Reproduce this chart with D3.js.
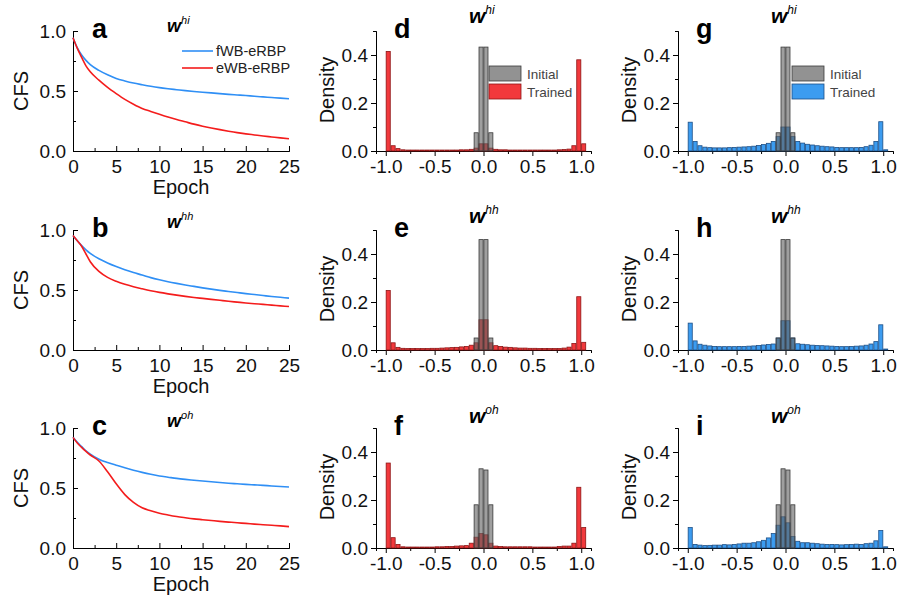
<!DOCTYPE html>
<html>
<head>
<meta charset="utf-8">
<script src="https://cdn.jsdelivr.net/npm/d3@7"></script>
<style>
  body { margin: 0; background: #fff; }
  svg { font-family: "Liberation Sans", Arial, sans-serif; }
</style>
</head>
<body>
<div id="chart"></div>
<script>
// ---- data ----
var epochs = [0, 0.5, 1, 1.5, 2, 3, 4, 5, 6, 7, 8, 9, 10, 11, 12, 13, 14, 15, 16, 17, 18, 19, 20, 21, 22, 23, 24, 25];

// CFS curves (fWB-eRBP = blue, eWB-eRBP = red)
var cfsHiF = [0.944, 0.86, 0.80, 0.755, 0.72, 0.672, 0.635, 0.605, 0.584, 0.566, 0.552, 0.539, 0.528, 0.519, 0.511, 0.503, 0.496, 0.490, 0.484, 0.478, 0.472, 0.467, 0.462, 0.456, 0.451, 0.446, 0.441, 0.435];
var cfsHiE = [0.944, 0.855, 0.78, 0.71, 0.66, 0.59, 0.53, 0.478, 0.43, 0.39, 0.355, 0.33, 0.306, 0.283, 0.262, 0.243, 0.224, 0.207, 0.192, 0.178, 0.165, 0.153, 0.143, 0.134, 0.125, 0.117, 0.109, 0.102];
var cfsHhF = [0.955, 0.91, 0.87, 0.835, 0.805, 0.76, 0.725, 0.695, 0.668, 0.645, 0.625, 0.603, 0.585, 0.569, 0.555, 0.542, 0.53, 0.518, 0.507, 0.497, 0.488, 0.479, 0.47, 0.462, 0.454, 0.446, 0.439, 0.432];
var cfsHhE = [0.955, 0.91, 0.865, 0.80, 0.735, 0.655, 0.605, 0.572, 0.547, 0.527, 0.51, 0.494, 0.48, 0.468, 0.457, 0.447, 0.438, 0.43, 0.422, 0.414, 0.406, 0.399, 0.392, 0.386, 0.38, 0.374, 0.368, 0.362];
var cfsOhF = [0.922, 0.88, 0.845, 0.81, 0.782, 0.74, 0.712, 0.69, 0.668, 0.648, 0.63, 0.614, 0.60, 0.59, 0.58, 0.572, 0.565, 0.558, 0.552, 0.546, 0.54, 0.535, 0.53, 0.526, 0.522, 0.517, 0.513, 0.508];
var cfsOhE = [0.922, 0.875, 0.838, 0.805, 0.775, 0.725, 0.635, 0.535, 0.445, 0.38, 0.335, 0.31, 0.29, 0.275, 0.262, 0.252, 0.243, 0.236, 0.229, 0.222, 0.216, 0.21, 0.205, 0.199, 0.194, 0.189, 0.184, 0.178];

// histogram bin centres (bin width 0.05)
var binCenters = [-0.975, -0.925, -0.875, -0.825, -0.775, -0.725, -0.675, -0.625, -0.575, -0.525,
  -0.475, -0.425, -0.375, -0.325, -0.275, -0.225, -0.175, -0.125, -0.075, -0.025,
  0.025, 0.075, 0.125, 0.175, 0.225, 0.275, 0.325, 0.375, 0.425, 0.475,
  0.525, 0.575, 0.625, 0.675, 0.725, 0.775, 0.825, 0.875, 0.925, 0.975, 1.025];
var initCenters = [-0.075, -0.025, 0.025, 0.075];

// initial weight densities
var initHi = [0.076, 0.433, 0.433, 0.076];
var initHh = [0.05, 0.46, 0.46, 0.05];
var initOh = [0.18, 0.33, 0.325, 0.18];

// trained densities, eWB-eRBP (red)
var trainHiE = [0.415, 0.022, 0.01, 0.005, 0.004, 0.004, 0.004, 0.004, 0.004, 0.004,
  0.004, 0.004, 0.004, 0.004, 0.004, 0.005, 0.005, 0.007, 0.012, 0.03,
  0.03, 0.012, 0.007, 0.005, 0.005, 0.004, 0.004, 0.004, 0.004, 0.004,
  0.004, 0.004, 0.004, 0.004, 0.004, 0.005, 0.006, 0.008, 0.022, 0.38, 0.03];
var trainHhE = [0.248, 0.03, 0.011, 0.007, 0.006, 0.006, 0.006, 0.006, 0.006, 0.007,
  0.007, 0.008, 0.009, 0.01, 0.011, 0.013, 0.015, 0.02, 0.03, 0.126,
  0.126, 0.03, 0.018, 0.015, 0.012, 0.011, 0.009, 0.008, 0.008, 0.007,
  0.007, 0.006, 0.006, 0.006, 0.006, 0.006, 0.008, 0.012, 0.027, 0.222, 0.032];
var trainOhE = [0.354, 0.043, 0.015, 0.005, 0.004, 0.004, 0.004, 0.004, 0.004, 0.004,
  0.005, 0.005, 0.006, 0.006, 0.008, 0.009, 0.01, 0.02, 0.045, 0.06,
  0.055, 0.02, 0.008, 0.006, 0.005, 0.005, 0.005, 0.005, 0.005, 0.005,
  0.004, 0.004, 0.004, 0.004, 0.004, 0.006, 0.008, 0.008, 0.02, 0.253, 0.085];

// trained densities, fWB-eRBP (blue)
var trainHiF = [0.12, 0.04, 0.022, 0.016, 0.014, 0.013, 0.013, 0.013, 0.014, 0.015,
  0.016, 0.017, 0.018, 0.02, 0.023, 0.027, 0.032, 0.04, 0.06, 0.10,
  0.10, 0.06, 0.04, 0.033, 0.028, 0.025, 0.022, 0.02, 0.018, 0.017,
  0.015, 0.014, 0.014, 0.014, 0.014, 0.015, 0.018, 0.024, 0.04, 0.122, 0.005];
var trainHhF = [0.112, 0.038, 0.024, 0.02, 0.017, 0.015, 0.014, 0.014, 0.014, 0.014,
  0.015, 0.015, 0.016, 0.017, 0.019, 0.021, 0.023, 0.025, 0.05, 0.122,
  0.122, 0.05, 0.026, 0.024, 0.022, 0.02, 0.019, 0.018, 0.017, 0.016,
  0.015, 0.014, 0.014, 0.015, 0.016, 0.017, 0.02, 0.025, 0.035, 0.105, 0.004];
var trainOhF = [0.085, 0.015, 0.012, 0.01, 0.011, 0.012, 0.012, 0.014, 0.013, 0.015,
  0.017, 0.02, 0.02, 0.022, 0.026, 0.032, 0.042, 0.06, 0.095, 0.13,
  0.105, 0.048, 0.028, 0.022, 0.022, 0.02, 0.018, 0.016, 0.015, 0.015,
  0.014, 0.013, 0.014, 0.015, 0.016, 0.015, 0.018, 0.02, 0.03, 0.073, 0.005];

var panelLetters = ["a", "b", "c", "d", "e", "f", "g", "h", "i"];
var weightSups = ["hi", "hh", "oh"];
var lineNames = ["fWB-eRBP", "eWB-eRBP"];
var histNames = ["Initial", "Trained"];

var blue = "#2f8ff5", red = "#f41c1c";

var svg = d3.select("#chart").append("svg")
  .attr("width", 899).attr("height", 603);

var rowTop = [31, 230, 428];
var ph = 120;

// ---- left column: CFS vs epoch ----
var cfsF = [cfsHiF, cfsHhF, cfsOhF];
var cfsE = [cfsHiE, cfsHhE, cfsOhE];

rowTop.forEach(function(top, r) {
  var g = svg.append("g").attr("transform", "translate(73," + top + ")");
  var w = 216;
  var x = d3.scaleLinear().domain([0, 25]).range([0, w]);
  var y = d3.scaleLinear().domain([0, 1]).range([ph, 0]);

  // minor ticks (inward)
  g.append("g").attr("transform", "translate(0," + ph + ")")
    .call(d3.axisBottom(x).tickValues([2.5, 7.5, 12.5, 17.5, 22.5]).tickSize(-3).tickFormat(""));
  g.append("g")
    .call(d3.axisLeft(y).tickValues([0.25, 0.75]).tickSize(-3).tickFormat(""));

  var xa = g.append("g").attr("transform", "translate(0," + ph + ")")
    .call(d3.axisBottom(x).tickValues([0, 5, 10, 15, 20, 25]).tickSize(-5).tickPadding(9).tickSizeOuter(0));
  var ya = g.append("g")
    .call(d3.axisLeft(y).tickValues([0, 0.5, 1]).tickFormat(d3.format(".1f")).tickSize(-5).tickPadding(7).tickSizeOuter(0));
  [xa, ya].forEach(function(a) {
    a.selectAll("text").attr("font-size", 19).attr("fill", "#111");
  });

  var line = d3.line()
    .x(function(d, i) { return x(epochs[i]); })
    .y(function(d) { return y(d); })
    .curve(d3.curveMonotoneX);

  g.append("path").datum(cfsF[r]).attr("d", line)
    .attr("fill", "none").attr("stroke", blue).attr("stroke-width", 1.6);
  g.append("path").datum(cfsE[r]).attr("d", line)
    .attr("fill", "none").attr("stroke", red).attr("stroke-width", 1.6);

  g.append("text").attr("x", w / 2).attr("y", ph + 43)
    .attr("text-anchor", "middle").attr("font-size", 20).attr("fill", "#111").text("Epoch");
  g.append("text").attr("transform", "translate(-52," + (ph / 2) + ") rotate(-90)")
    .attr("text-anchor", "middle").attr("dy", "0.35em").attr("font-size", 20).attr("fill", "#111").text("CFS");

  g.append("text").attr("x", 19).attr("y", 7)
    .attr("font-size", 27).attr("font-weight", "bold").text(panelLetters[r]);

  var t = g.append("text").attr("x", 94).attr("y", [1, -2, -1][r])
    .attr("font-size", 18).attr("font-weight", "bold").attr("font-style", "italic");
  t.append("tspan").text("w");
  t.append("tspan").attr("dy", -8).attr("font-size", 11).attr("font-weight", "normal").text(weightSups[r]);

  if (r === 0) {
    var lg = g.append("g").attr("transform", "translate(109,20)");
    [blue, red].forEach(function(c, k) {
      lg.append("line").attr("x1", 0).attr("x2", 31).attr("y1", k * 17).attr("y2", k * 17)
        .attr("stroke", c).attr("stroke-width", 1.6);
      lg.append("text").attr("x", 34).attr("y", k * 17).attr("dy", "0.35em")
        .attr("font-size", 14.5).attr("fill", "#222").text(lineNames[k]);
    });
  }
});

// ---- histograms ----
var initAll = [initHi, initHh, initOh];
var cols = [
  { left: 376, trained: [trainHiE, trainHhE, trainOhE], fill: "#f2393c", stroke: "#8e1515", letters: ["d", "e", "f"] },
  { left: 678, trained: [trainHiF, trainHhF, trainOhF], fill: "#3c9cf0", stroke: "#1d4f86", letters: ["g", "h", "i"] }
];

cols.forEach(function(col) {
  rowTop.forEach(function(top, r) {
    var g = svg.append("g").attr("transform", "translate(" + col.left + "," + top + ")");
    var w = 215;
    var x = d3.scaleLinear().domain([-1.1, 1.1]).range([0, w]);
    var y = d3.scaleLinear().domain([0, 0.5]).range([ph, 0]);
    var bw = (x(0.05) - x(0)) * 0.84;

    g.append("g").attr("transform", "translate(0," + ph + ")")
      .call(d3.axisBottom(x).tickValues([-0.75, -0.25, 0.25, 0.75]).tickSize(3).tickFormat(""));
    g.append("g")
      .call(d3.axisLeft(y).tickValues([0.1, 0.3]).tickSize(3).tickFormat(""));

    var xa = g.append("g").attr("transform", "translate(0," + ph + ")")
      .call(d3.axisBottom(x).tickValues([-1, -0.5, 0, 0.5, 1]).tickSize(5).tickPadding(4).tickSizeOuter(0));
    var ya = g.append("g")
      .call(d3.axisLeft(y).tickValues([0, 0.2, 0.4]).tickFormat(d3.format(".1f")).tickSize(5).tickPadding(3).tickSizeOuter(0));
    [xa, ya].forEach(function(a) {
      a.selectAll("text").attr("font-size", 19).attr("fill", "#111");
    });
    xa.selectAll("text").text(function(d) { return d.toFixed(1); });

    // trained bars
    g.selectAll(".tr").data(col.trained[r]).enter().append("rect")
      .attr("x", function(d, i) { return x(binCenters[i]) - bw / 2; })
      .attr("y", function(d) { return y(d); })
      .attr("width", bw)
      .attr("height", function(d) { return ph - y(d); })
      .attr("fill", col.fill).attr("stroke", col.stroke).attr("stroke-width", 0.8);

    // initial bars, semi-transparent on top
    g.selectAll(".in").data(initAll[r]).enter().append("rect")
      .attr("x", function(d, i) { return x(initCenters[i]) - bw / 2; })
      .attr("y", function(d) { return y(d); })
      .attr("width", bw)
      .attr("height", function(d) { return ph - y(d); })
      .attr("fill", "rgba(100,100,100,0.62)").attr("stroke", "#3a3a3a").attr("stroke-width", 0.8);

    g.append("text").attr("transform", "translate(-49," + (ph / 2 - 1) + ") rotate(-90)")
      .attr("text-anchor", "middle").attr("dy", "0.35em").attr("font-size", 20).attr("fill", "#111").text("Density");

    g.append("text").attr("x", 18).attr("y", 7)
      .attr("font-size", 27).attr("font-weight", "bold").text(col.letters[r]);

    var t = g.append("text").attr("x", 93).attr("y", [-8, -7, -5][r])
      .attr("font-size", 21).attr("font-weight", "bold").attr("font-style", "italic");
    t.append("tspan").text("w");
    t.append("tspan").attr("dy", -9).attr("font-size", 12).attr("font-weight", "normal").text(weightSups[r]);

    if (r === 0) {
      var lg = g.append("g").attr("transform", "translate(" + (col.left === 376 ? 113 : 114) + ",35)");
      ["rgba(100,100,100,0.7)", col.fill].forEach(function(c, k) {
        lg.append("rect").attr("x", 0).attr("y", k * 18).attr("width", 32).attr("height", 15)
          .attr("fill", c).attr("stroke", k === 0 ? "#3a3a3a" : col.stroke).attr("stroke-width", 0.8);
        lg.append("text").attr("x", 38).attr("y", k * 18 + 8).attr("dy", "0.35em")
          .attr("font-size", 13.5).attr("fill", "#444").text(histNames[k]);
      });
    }
  });
});
</script>
</body>
</html>
